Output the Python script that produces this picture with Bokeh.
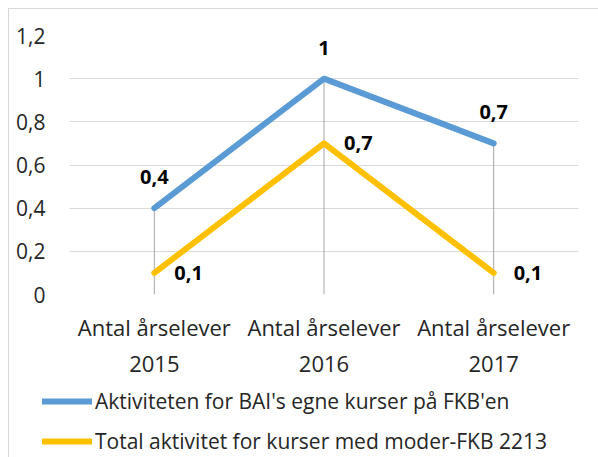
from bokeh.plotting import figure
from bokeh.layouts import column, row
from bokeh.models import (ColumnDataSource, FactorRange, FixedTicker, Legend, LegendItem,
                          LabelSet, Range1d)
from bokeh.core.properties import value
from bokeh.embed import file_html
from bokeh.resources import INLINE

categories = ["Antal årselever\n2015", "Antal årselever\n2016", "Antal årselever\n2017"]
series_bai = [0.4, 1.0, 0.7]
series_total = [0.1, 0.7, 0.1]
label_bai = ["0,4", "1", "0,7"]
label_total = ["0,1", "0,7", "0,1"]
name_bai = "Aktiviteten for BAI's egne kurser på FKB'en"
name_total = "Total aktivitet for kurser med moder-FKB 2213"
y_ticks = [0, 0.2, 0.4, 0.6, 0.8, 1.0, 1.2]
y_tick_labels = ["0", "0,2", "0,4", "0,6", "0,8", "1", "1,2"]

FONT = "Open Sans"
BLUE = "#5B9BD5"
YELLOW = "#FFC000"
TEXT = "#262626"

p = figure(x_range=FactorRange(*categories), y_range=Range1d(0, 1.2),
           frame_width=509, frame_height=259, output_backend="svg", toolbar_location=None,
           min_border_left=60, min_border_right=20, min_border_top=26, min_border_bottom=82)
p.outline_line_color = None

# drop lines
tops = [max(a, b) for a, b in zip(series_bai, series_total)]
p.segment(x0=categories, y0=[0] * len(categories), x1=categories, y1=tops,
          line_color="#A6A6A6", line_width=1)

src = ColumnDataSource(dict(x=categories, bai=series_bai, total=series_total,
                            lb=label_bai, lt=label_total))
r1 = p.line("x", "bai", source=src, line_color=BLUE, line_width=6,
            line_join="round", line_cap="round")
r2 = p.line("x", "total", source=src, line_color=YELLOW, line_width=6,
            line_join="round", line_cap="round")

p.add_layout(LabelSet(x="x", y="bai", text="lb", source=src, y_offset=24,
                      text_align="center", text_baseline="alphabetic",
                      text_font=value(FONT), text_font_style="bold", text_font_size="20px",
                      text_color="#000000"))
p.add_layout(LabelSet(x="x", y="total", text="lt", source=src, x_offset=20,
                      text_align="left", text_baseline="middle",
                      text_font=value(FONT), text_font_style="bold", text_font_size="20px",
                      text_color="#000000"))

p.xgrid.grid_line_color = None
p.ygrid.grid_line_color = "#D9D9D9"
p.ygrid.grid_line_width = 1
p.yaxis.ticker = FixedTicker(ticks=y_ticks)
p.yaxis.major_label_overrides = {t: l for t, l in zip(y_ticks, y_tick_labels)}

for ax in (p.xaxis[0], p.yaxis[0]):
    ax.axis_line_color = None
    ax.major_tick_line_color = None
    ax.minor_tick_line_color = None
    ax.major_label_text_font = FONT
    ax.major_label_text_color = TEXT
p.yaxis.major_label_text_font_size = "21px"
p.xaxis.major_label_text_font_size = "22px"
p.yaxis.major_label_standoff = 18
p.xaxis.major_label_standoff = 11

# legend strip below the chart (keys only, no data drawn)
lg = figure(width=589, height=81, x_range=Range1d(0, 1), y_range=Range1d(0, 1),
            output_backend="svg", toolbar_location=None, min_border=0,
            x_axis_location=None, y_axis_location=None)
lg.grid.grid_line_color = None
lg.outline_line_color = None
nan = float("nan")
k1 = lg.line(x=[0, 1], y=[nan, nan], line_color=BLUE, line_width=6, line_cap="round")
k2 = lg.line(x=[0, 1], y=[nan, nan], line_color=YELLOW, line_width=6, line_cap="round")
legend = Legend(items=[LegendItem(label=name_bai, renderers=[k1]),
                       LegendItem(label=name_total, renderers=[k2])],
                orientation="vertical", location=(33, 5),
                label_text_font=FONT, label_text_font_size="21px", label_text_color=TEXT,
                glyph_width=50, glyph_height=30, label_height=30, label_standoff=3, spacing=10,
                border_line_color=None, background_fill_alpha=0, margin=0, padding=0)
lg.add_layout(legend, "center")

layout = column(p, row(lg, spacing=0), spacing=0, margin=(8, 0, 0, 8))
layout.styles = {"border-left": "1px solid #d9d9d9", "border-top": "1px solid #d9d9d9"}

open("out.html", "w").write(file_html(layout, INLINE))
